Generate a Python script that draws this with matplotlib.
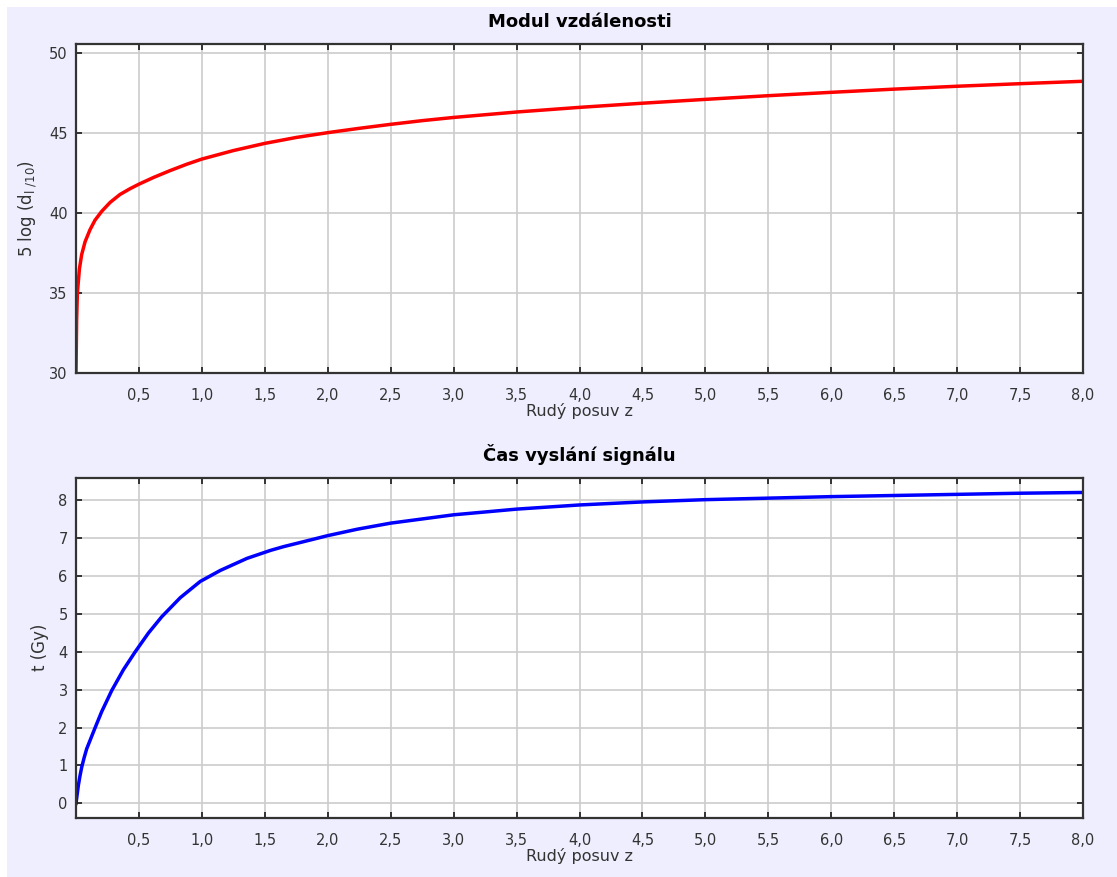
import matplotlib
matplotlib.use("Agg")
import matplotlib.pyplot as plt
from matplotlib.patches import Rectangle
from matplotlib.ticker import FixedLocator, FuncFormatter

plt.rcParams['font.family'] = ['DejaVu Sans']

# distance modulus vs redshift
z_mod = [0.0, 0.005, 0.011, 0.027, 0.045, 0.072, 0.111, 0.151, 0.204, 0.271,
         0.35, 0.43, 0.5, 0.616, 0.748, 0.881, 1.0, 1.25, 1.5, 1.75,
         2.0, 2.25, 2.5, 2.75, 3.0, 3.5, 4.0, 4.5, 5.0, 5.5,
         6.0, 6.5, 7.0, 7.5, 8.0]
mod = [30.0, 33.3, 35.0, 36.5, 37.4, 38.2, 38.95, 39.55, 40.1, 40.66,
       41.16, 41.52, 41.8, 42.22, 42.65, 43.05, 43.37, 43.9, 44.35, 44.72,
       45.02, 45.29, 45.54, 45.77, 45.97, 46.31, 46.6, 46.86, 47.1, 47.33,
       47.54, 47.74, 47.92, 48.08, 48.23]

# lookback time (Gy) vs redshift
z_t = [0.0, 0.019, 0.032, 0.045, 0.065, 0.085, 0.151, 0.204, 0.284, 0.377,
       0.47, 0.576, 0.682, 0.828, 0.987, 1.146, 1.359, 1.545, 1.65, 1.88,
       2.0, 2.235, 2.5, 3.0, 3.5, 4.0, 4.5, 5.0, 5.5, 6.0,
       6.5, 7.0, 7.5, 8.0]
t_gy = [0.0, 0.48, 0.73, 0.95, 1.21, 1.44, 1.99, 2.42, 2.98, 3.53,
        4.0, 4.5, 4.93, 5.43, 5.86, 6.15, 6.47, 6.68, 6.78, 6.97,
        7.07, 7.24, 7.4, 7.62, 7.77, 7.88, 7.96, 8.02, 8.06, 8.1,
        8.13, 8.16, 8.19, 8.21]

x_ticks = [0.5, 1.0, 1.5, 2.0, 2.5, 3.0, 3.5, 4.0, 4.5, 5.0, 5.5, 6.0, 6.5, 7.0, 7.5, 8.0]
mod_ticks = [30, 35, 40, 45, 50]
t_ticks = [0, 1, 2, 3, 4, 5, 6, 7, 8]

W, H = 1117, 877
fig = plt.figure(figsize=(W / 100, H / 100), dpi=100, facecolor="white")
# lavender panel behind both charts
fig.patches.append(Rectangle((7 / W, 0), 1, (H - 7) / H, transform=fig.transFigure,
                             facecolor="#eeeefe", edgecolor="none", zorder=-10))

comma = FuncFormatter(lambda v, p: f"{v:.1f}".replace(".", ","))


def style_axes(ax, title, ylabel, yticks):
    ax.set_facecolor("white")
    ax.set_xlim(0, 8)
    ax.xaxis.set_major_locator(FixedLocator(x_ticks))
    ax.xaxis.set_major_formatter(comma)
    ax.yaxis.set_major_locator(FixedLocator(yticks))
    ax.grid(True, color="#cccccc", linewidth=1.2)
    ax.set_axisbelow(True)
    for s in ax.spines.values():
        s.set_color("#333333")
        s.set_linewidth(1.6)
    ax.tick_params(direction="in", top=True, right=True, length=4, width=1.4,
                   color="#333333", labelcolor="#333333", labelsize=10.5)
    ax.tick_params(axis="x", pad=11)
    ax.tick_params(axis="y", pad=6)
    ax.set_title(title, fontsize=13, fontweight="bold", pad=12)
    ax.set_xlabel("Rudý posuv z", fontsize=11.5, color="#333333", labelpad=0)
    ax.set_ylabel(ylabel, fontsize=12, color="#333333", labelpad=7)


ax1 = fig.add_axes([76 / W, 1 - 373 / H, (1083 - 76) / W, (373 - 44) / H])
ax1.plot(z_mod, mod, color="#ff0000", linewidth=2.5)
ax1.set_ylim(30, 50.56)
style_axes(ax1, "Modul vzdálenosti", r"5 log (d$_{\mathregular{l\ /10}}$)", mod_ticks)

ax2 = fig.add_axes([76 / W, 1 - 817.7 / H, (1083 - 76) / W, (817.7 - 477.7) / H])
ax2.plot(z_t, t_gy, color="#0000ff", linewidth=2.5)
ax2.set_ylim(-0.38, 8.6)
style_axes(ax2, "Čas vyslání signálu", "t (Gy)", t_ticks)

fig.savefig("out.png", dpi=100, facecolor=fig.get_facecolor())
